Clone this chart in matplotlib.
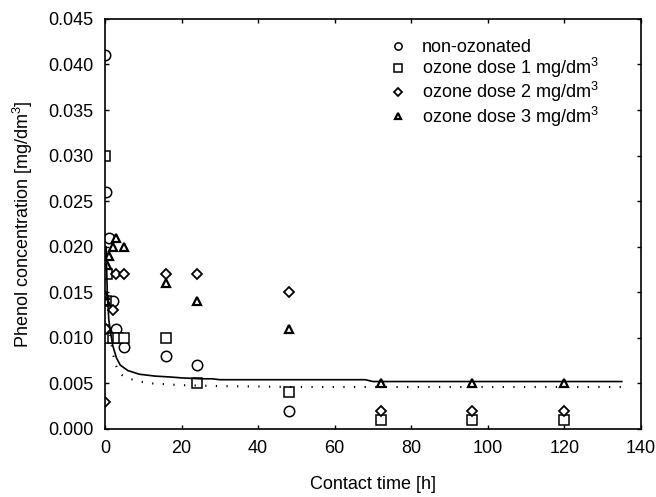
import numpy as np
import matplotlib
matplotlib.use('AGG')
import matplotlib.pyplot as plt

plt.rcParams['font.family'] = ['Liberation Sans', 'DejaVu Sans']
plt.rcParams['mathtext.default'] = 'regular'

# measured points
t_non = [0, 0.3, 1, 2, 3, 5, 16, 24, 48]
c_non = [0.041, 0.026, 0.021, 0.014, 0.011, 0.009, 0.008, 0.007, 0.002]

t_oz1 = [0, 0.5, 0.3, 0.2, 2, 3.5, 5, 16, 24, 48, 72, 96, 120]
c_oz1 = [0.030, 0.017, 0.014, 0.010, 0.010, 0.010, 0.010, 0.010, 0.005, 0.004, 0.001, 0.001, 0.001]

t_oz2 = [0, 0.2, 2, 3, 5, 16, 24, 48, 72, 96, 120]
c_oz2 = [0.003, 0.011, 0.013, 0.017, 0.017, 0.017, 0.017, 0.015, 0.002, 0.002, 0.002]

t_oz3 = [0, 0.2, 0.5, 1, 2, 3, 5, 16, 24, 48, 72, 96, 120]
c_oz3 = [0.0147, 0.014, 0.018, 0.019, 0.020, 0.021, 0.020, 0.016, 0.014, 0.011, 0.005, 0.005, 0.005]

# fitted curves
t_fit = [0.3, 0.6, 1, 1.5, 2, 3, 4, 6, 9, 13, 17, 20, 25, 28, 30, 68, 70, 135]
c_fit = [0.020, 0.015, 0.012, 0.0105, 0.0092, 0.0078, 0.0070, 0.0064, 0.0060, 0.0058,
         0.0057, 0.0056, 0.0055, 0.0055, 0.0054, 0.0054, 0.0052, 0.0052]

t_fit2 = [1, 1.5, 2, 2.6, 3.5, 4.5, 6.5, 9, 12, 16, 20, 30, 50, 135]
c_fit2 = [0.0115, 0.0098, 0.0085, 0.0072, 0.0064, 0.0059, 0.0055, 0.0052, 0.0050, 0.0049,
          0.0048, 0.0047, 0.0046, 0.0046]

fig = plt.figure(figsize=(6.56, 4.97), dpi=100)
ax = fig.add_axes([0.160, 0.137, 0.817, 0.825])

mk = dict(linestyle='none', mfc='white', mec='black', color='black')
ax.plot(t_non, c_non, marker='o', ms=7.5, mew=1.1, label='non-ozonated', **mk)
ax.plot(t_oz1, c_oz1, marker='s', ms=7.5, mew=1.1, label='ozone dose 1 mg/dm$^3$', **mk)
ax.plot(t_oz2, c_oz2, marker='D', ms=5.5, mew=1.3, label='ozone dose 2 mg/dm$^3$', **mk)
ax.plot(t_oz3, c_oz3, marker='^', ms=6, mew=1.6, label='ozone dose 3 mg/dm$^3$', **mk)

ax.plot(t_fit, c_fit, color='black', lw=1.2)
ax.plot(t_fit2, c_fit2, color='black', lw=1.5, dashes=(0.6, 4.5))

ax.set_xlim(0, 140)
ax.set_ylim(0, 0.045)
ax.set_xticks(np.arange(0, 141, 20))
ax.set_yticks(np.arange(0, 0.0451, 0.005))
ax.yaxis.set_major_formatter(matplotlib.ticker.FormatStrFormatter('%.3f'))
ax.tick_params(direction='in', length=3, width=1, top=True, right=True,
               labelsize=13, pad=8)
for s in ax.spines.values():
    s.set_linewidth(1.2)

ax.set_xlabel('Contact time [h]', fontsize=13, labelpad=14)
ax.set_ylabel('Phenol concentration [mg/dm$^3$]', fontsize=13, labelpad=10)

ax.legend(loc='upper left', bbox_to_anchor=(0.50, 0.99), frameon=False,
          fontsize=13, markerscale=0.7, handlelength=1.0, handletextpad=0.8,
          labelspacing=0.0)

fig.savefig('out.png', dpi=100)
